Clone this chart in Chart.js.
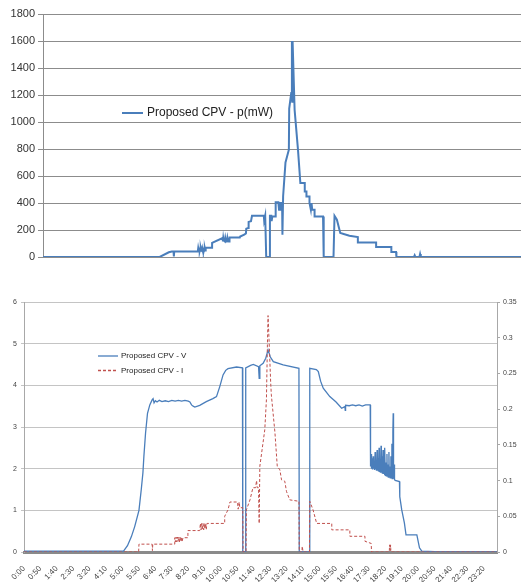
<!DOCTYPE html>
<html>
<head>
<meta charset="utf-8">
<script src="https://cdn.jsdelivr.net/npm/chart.js@4.4.1/dist/chart.umd.min.js"></script>
<style>
  html, body { margin: 0; padding: 0; background: #fff; overflow: hidden; width: 521px; height: 582px; }
  #power { position: absolute; left: 0; top: 0; }
  #vi { position: absolute; left: 0; top: 290px; }
</style>
</head>
<body>
<canvas id="power" width="530" height="262"></canvas>
<canvas id="vi" width="521" height="292"></canvas>
<script>
// time of day in minutes after midnight
const powerMin = [0,345,372,381,386,387,388,458,
  458,459,460,461,462,463,464,465,466,467,468,469,470,471,472,473,474,475,476,477,478,479,480,481,
  500,500,
  531,532,533,534,535,536,537,538,539,540,541,542,543,544,545,546,547,548,549,550,551,552,
  582,583,595,600,601,607,608,615,618,653,654,656,657,659,660,669,671,675,676,678,686,688,696,698,701,702,707,708,710,717,727,728,734,736,737,738,744,754,761,774,774,779,779,788,788,792,794,796,803,803,828,830,859,862,869,879,906,931,931,985,985,1030,1030,1044,1045,1097,1099,1101,1113,1115,1117,1440];
const powerMw = [0,0,35,40,40,5,40,40,
  45,65,45,65,45,65,48,65,45,65,48,65,45,65,48,65,45,65,48,65,45,65,48,68,
  68,105,
  140,115,140,115,140,118,140,115,140,118,140,115,140,118,140,115,140,118,140,115,140,145,
  145,152,165,175,210,215,260,265,305,305,270,270,305,305,0,0,305,305,265,300,300,405,405,350,350,400,400,165,450,700,795,1100,1214,1600,1150,1600,1090,794,548,548,486,486,449,449,400,350,400,350,350,300,300,0,0,305,276,178,158,148,108,108,74,74,37,37,0,0,12,0,0,22,0,0];

const voltMin = [0,303,315,327,337,350,357,362,365,370,376,383,390,393,396,400,405,412,420,430,440,450,460,470,480,490,500,505,510,515,520,535,555,575,586,596,606,614,621,647,665,666,674,675,690,698,714,716,718,728,736,743,750,759,789,837,838,869,870,890,896,903,911,931,950,967,977,978,979,990,1000,1010,1020,1030,1040,1054,
  1055,1057,1058,1060,1061,1063,1064,1066,1067,1069,1070,1072,1073,1075,1076,1078,1079,1081,1082,1084,1085,1087,1088,1090,1091,1093,1094,1096,1097,1099,1100,1102,1103,1105,1106,1108,1109,1111,1112,1114,1115,1117,1118,1120,1121,1123,1124,1125,1127,1128,1130,
  1143,1144,1150,1158,1163,1196,1204,1211,1250,1440];
const voltV = [0.02,0.02,0.15,0.37,0.61,1.0,1.5,1.9,2.3,2.85,3.33,3.53,3.65,3.68,3.58,3.63,3.6,3.64,3.61,3.63,3.61,3.64,3.62,3.64,3.62,3.64,3.62,3.6,3.53,3.5,3.48,3.52,3.61,3.68,3.73,3.97,4.25,4.36,4.4,4.44,4.42,0,0,4.42,4.48,4.5,4.45,4.17,4.47,4.53,4.65,4.85,4.68,4.57,4.49,4.41,0,0,4.41,4.38,4.33,4.1,3.93,3.73,3.6,3.45,3.49,3.4,3.52,3.51,3.53,3.51,3.53,3.5,3.53,3.53,
  2.05,2.35,2.0,2.25,1.98,2.3,2.0,2.15,1.97,2.4,1.98,2.2,1.95,2.45,1.95,2.25,1.93,2.5,1.92,2.2,1.9,2.55,1.9,2.3,1.88,2.45,1.87,2.2,1.85,2.5,1.84,2.15,1.83,2.35,1.82,2.1,1.8,2.4,1.8,2.05,1.78,2.3,1.78,2.6,1.76,2.9,3.33,1.76,2.1,1.74,1.72,
  1.69,1.33,1.01,0.7,0.41,0.41,0.1,0.02,0.01,0];

const currMin = [0,349,350,390,391,392,459,459,461,463,465,467,469,471,473,475,477,479,481,484,499,499,535,537,539,541,543,545,547,549,551,553,555,557,560,611,611,621,627,650,652,655,657,666,667,676,677,688,697,705,708,710,714,716,718,733,738,741,743,746,751,753,764,771,779,784,794,799,809,837,838,846,847,849,850,869,870,880,891,937,937,992,992,1038,1038,1057,1058,1112,1113,1115,1116,1117,1440];
const currA = [0,0,0.011,0.011,0.002,0.011,0.011,0.02,0.014,0.021,0.014,0.021,0.015,0.021,0.014,0.021,0.015,0.021,0.014,0.02,0.02,0.03,0.03,0.04,0.031,0.04,0.031,0.04,0.031,0.04,0.032,0.04,0.032,0.04,0.04,0.04,0.05,0.059,0.07,0.07,0.06,0.07,0.062,0.062,0,0,0.059,0.073,0.09,0.09,0.1,0.09,0.09,0.04,0.12,0.171,0.213,0.29,0.331,0.297,0.237,0.22,0.167,0.12,0.115,0.101,0.099,0.085,0.073,0.071,0,0,0.008,0.002,0,0,0.071,0.059,0.04,0.04,0.031,0.031,0.022,0.022,0.015,0.012,0,0,0.01,0.002,0.01,0,0];

const timeLabels = ['0:00','0:50','1:40','2:30','3:20','4:10','5:00','5:50','6:40','7:30','8:20','9:10','10:00','10:50','11:40','12:30','13:20','14:10','15:00','15:50','16:40','17:30','18:20','19:10','20:00','20:50','21:40','22:30','23:20'];

const BLUE = '#4a7ebb';
const RED = '#c0504d';

function toPoints(xs, ys) {
  return xs.map((x, i) => ({ x: x, y: ys[i] }));
}
function labelToMin(s) {
  const p = s.split(':');
  return +p[0] * 60 + +p[1];
}

// legend drawn inside the plot, like the spreadsheet original
const innerLegend = {
  id: 'innerLegend',
  afterDraw(chart, args, opts) {
    const ctx = chart.ctx;
    ctx.save();
    ctx.font = opts.font;
    ctx.textBaseline = 'middle';
    chart.data.datasets.forEach((ds, i) => {
      const y = opts.y + i * opts.step;
      ctx.strokeStyle = ds.borderColor;
      ctx.lineWidth = opts.lineWidth;
      ctx.setLineDash(ds.borderDash || []);
      ctx.beginPath();
      ctx.moveTo(opts.x, y);
      ctx.lineTo(opts.x + opts.len, y);
      ctx.stroke();
      ctx.setLineDash([]);
      ctx.fillStyle = '#222';
      ctx.fillText(ds.label, opts.x + opts.len + opts.gap, y);
    });
    ctx.restore();
  }
};

Chart.defaults.font.family = '"Liberation Sans", Arial, sans-serif';
Chart.defaults.color = '#404040';

// top chart: power
new Chart(document.getElementById('power'), {
  type: 'line',
  data: {
    datasets: [{
      label: 'Proposed CPV - p(mW)',
      data: toPoints(powerMin, powerMw),
      borderColor: BLUE,
      borderWidth: 2,
      pointRadius: 0,
      tension: 0,
      fill: false
    }]
  },
  options: {
    responsive: false,
    animation: false,
    layout: { padding: { top: 14, bottom: 5, left: 0, right: 0 } },
    scales: {
      x: { type: 'linear', min: 0, max: 1440, display: false },
      y: {
        min: 0, max: 1800,
        ticks: { stepSize: 200, font: { size: 11 }, color: '#333', padding: 3, callback: v => String(v) },
        grid: { color: '#8c8c8c', lineWidth: 1, tickLength: 5 },
        border: { color: '#8c8c8c' },
        afterFit(s) { s.width = 43; s.paddingTop = 0; s.paddingBottom = 0; }
      }
    },
    plugins: {
      legend: { display: false },
      tooltip: { enabled: false },
      innerLegend: { x: 122, y: 113, step: 0, len: 21, gap: 4, lineWidth: 2, font: '12px "Liberation Sans", Arial, sans-serif' }
    }
  },
  plugins: [innerLegend]
});

// bottom chart: voltage (left) and current (right)
new Chart(document.getElementById('vi'), {
  type: 'line',
  data: {
    datasets: [{
      label: 'Proposed CPV - V',
      data: toPoints(voltMin, voltV),
      borderColor: BLUE,
      borderWidth: 1.3,
      pointRadius: 0,
      tension: 0,
      yAxisID: 'y',
      order: 1
    }, {
      label: 'Proposed CPV - I',
      data: toPoints(currMin, currA),
      borderColor: RED,
      borderWidth: 1,
      borderDash: [3, 2],
      pointRadius: 0,
      tension: 0,
      yAxisID: 'y1',
      order: 0
    }]
  },
  options: {
    responsive: false,
    animation: false,
    layout: { padding: { top: 12, bottom: 0, left: 0, right: 0 } },
    scales: {
      x: {
        type: 'linear', min: 0, max: 1440,
        afterBuildTicks(s) { s.ticks = timeLabels.map(l => ({ value: labelToMin(l) })); },
        ticks: {
          autoSkip: false, minRotation: 45, maxRotation: 45, padding: 4,
          font: { size: 8 }, color: '#444',
          callback: (v, i) => timeLabels[i]
        },
        grid: { display: false },
        border: { color: '#8a8a8a', width: 3 },
        afterFit(s) { s.height = 30; s.paddingLeft = 0; s.paddingRight = 0; }
      },
      y: {
        position: 'left', min: 0, max: 6,
        ticks: { stepSize: 1, font: { size: 7 }, color: '#444', padding: 4 },
        grid: { color: '#c4c4c4', tickLength: 3 },
        border: { color: '#a8a8a8' },
        afterFit(s) { s.width = 24; s.paddingTop = 0; s.paddingBottom = 0; }
      },
      y1: {
        position: 'right', min: 0, max: 0.35,
        ticks: { stepSize: 0.05, font: { size: 7 }, color: '#444', padding: 3,
          callback: v => String(+v.toFixed(2)) },
        grid: { drawOnChartArea: false, color: '#a8a8a8', tickLength: 3 },
        border: { color: '#a8a8a8' },
        afterFit(s) { s.width = 24; s.paddingTop = 0; s.paddingBottom = 0; }
      }
    },
    plugins: {
      legend: { display: false },
      tooltip: { enabled: false },
      innerLegend: { x: 98, y: 66, step: 14.5, len: 20, gap: 3, lineWidth: 1.3, font: '8px "Liberation Sans", Arial, sans-serif' }
    }
  },
  plugins: [innerLegend]
});
</script>
</body>
</html>
